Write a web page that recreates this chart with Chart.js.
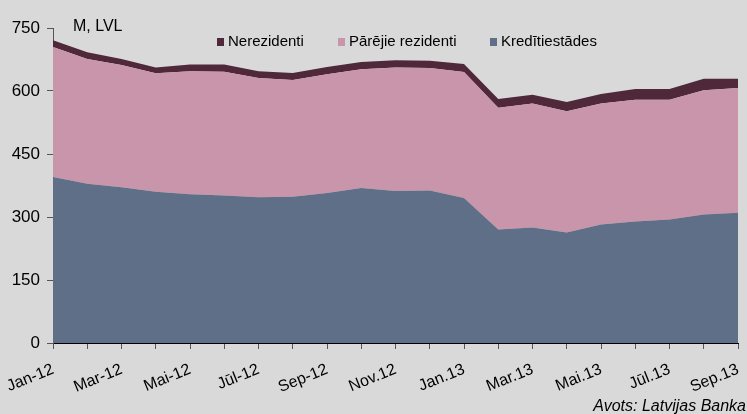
<!DOCTYPE html>
<html>
<head>
<meta charset="utf-8">
<script src="https://cdn.jsdelivr.net/npm/chart.js@4/dist/chart.umd.min.js"></script>
<style>
  html, body { margin: 0; padding: 0; background: #d9d9d9; }
  #wrap { width: 747px; height: 414px; position: relative; }
</style>
</head>
<body>
<div id="wrap"><canvas id="c" width="747" height="414"></canvas></div>
<script>
const months = ["Jan-12","Feb-12","Mar-12","Apr-12","Mai-12","Jūn-12","Jūl-12","Aug-12","Sep-12","Okt-12","Nov.12","Dec.12",
                "Jan.13","Feb.13","Mar.13","Apr.13","Mai.13","Jūn.13","Jūl.13","Aug.13","Sep.13"];
const kreditiestades = [395, 379, 371, 360, 354, 351, 347, 348, 357, 369, 362, 363, 345, 270, 275, 263, 282, 289, 294, 306, 310];
const parejieRezidenti = [310, 297, 291, 282, 293, 295, 284, 278, 283, 283, 294, 292, 300, 290, 295, 289, 288, 290, 285, 296, 297];
const nerezidenti = [16, 16, 14, 14, 16, 17, 16, 17, 17, 17, 17, 17, 19, 21, 21, 22, 23, 26, 26, 27, 22];
const yTicks = [0, 150, 300, 450, 600, 750];

const FONT = "'Liberation Sans', Arial, sans-serif";
const colBlue = '#5e6f87', colPink = '#c995ab', colDark = '#4f2839';

const overlay = {
  id: 'overlay',
  afterDraw(chart) {
    const ctx = chart.ctx;
    ctx.save();
    ctx.fillStyle = '#000';
    ctx.textBaseline = 'alphabetic';
    ctx.font = '16px ' + FONT;
    ctx.textAlign = 'left';
    ctx.fillText('M, LVL', 73, 31);
    ctx.font = '15px ' + FONT;
    const legend = [
      {label: chart.data.datasets[2].label, color: chart.data.datasets[2].backgroundColor, x: 217},
      {label: chart.data.datasets[1].label, color: chart.data.datasets[1].backgroundColor, x: 338},
      {label: chart.data.datasets[0].label, color: chart.data.datasets[0].backgroundColor, x: 490}
    ];
    legend.forEach(l => {
      ctx.fillStyle = l.color;
      ctx.fillRect(l.x, 38, 7, 8);
      ctx.fillStyle = '#000';
      ctx.fillText(l.label, l.x + 11, 46);
    });
    ctx.font = 'italic 16px ' + FONT;
    ctx.textAlign = 'right';
    ctx.fillText('Avots: Latvijas Banka', 746, 411);
    ctx.restore();
  }
};

new Chart(document.getElementById('c'), {
  type: 'line',
  data: {
    labels: months,
    datasets: [
      {label: 'Kredītiestādes', data: kreditiestades, backgroundColor: colBlue, borderWidth: 0, fill: 'origin', pointRadius: 0},
      {label: 'Pārējie rezidenti', data: parejieRezidenti, backgroundColor: colPink, borderWidth: 0, fill: '-1', pointRadius: 0},
      {label: 'Nerezidenti', data: nerezidenti, backgroundColor: colDark, borderWidth: 0, fill: '-1', pointRadius: 0}
    ]
  },
  options: {
    responsive: false,
    animation: false,
    layout: {padding: {top: 28, right: 9, left: 0, bottom: 0}},
    elements: {line: {tension: 0}},
    plugins: {legend: {display: false}, tooltip: {enabled: false}, title: {display: false}},
    scales: {
      x: {
        offset: false,
        grid: {display: true, drawOnChartArea: false, drawTicks: true, tickLength: 6, color: '#555'},
        border: {display: true, color: '#000', width: 1},
        ticks: {
          autoSkip: false, maxRotation: 22, minRotation: 22, color: '#000', padding: 11,
          font: {family: FONT, size: 16},
          callback: function(v, i) { return i % 2 === 0 ? months[i] : ''; }
        },
        afterFit(s) { s.height = 71; s.paddingLeft = 0; s.paddingRight = 0; }
      },
      y: {
        stacked: true,
        min: 0, max: 750,
        afterBuildTicks(s) { s.ticks = yTicks.map(v => ({value: v})); },
        grid: {display: true, drawOnChartArea: false, drawTicks: true, tickLength: 6, color: '#555'},
        border: {display: true, color: '#555', width: 1},
        ticks: {color: '#000', padding: 7, font: {family: FONT, size: 17}},
        afterFit(s) { s.width = 53; s.paddingTop = 0; s.paddingBottom = 0; }
      }
    }
  },
  plugins: [overlay]
});
</script>
</body>
</html>
